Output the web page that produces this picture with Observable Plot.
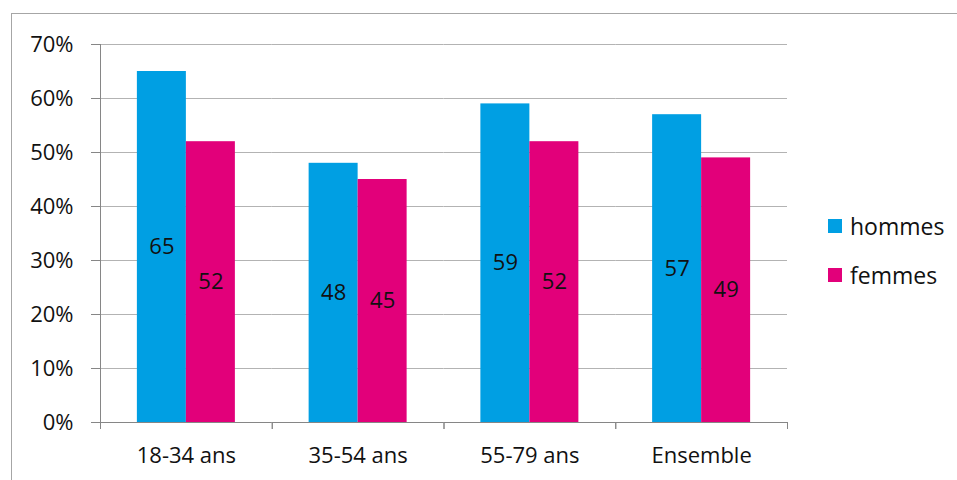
<!DOCTYPE html>
<html>
<head>
<meta charset="utf-8">
<script src="https://cdn.jsdelivr.net/npm/d3@7"></script>
<script src="https://cdn.jsdelivr.net/npm/@observablehq/plot@0.6"></script>
<style>
  body { margin: 0; background: #fff; font-family: "Open Sans", sans-serif; }
  #wrap { position: relative; width: 957px; height: 480px; overflow: hidden; }
  #border { position: absolute; left: 11px; top: 13px; width: 960px; height: 490px; border: 1px solid #a6a6a6; box-sizing: border-box; }
  #chart { position: absolute; left: 0; top: 0; }
  .legend { position: absolute; left: 828px; font-size: 23px; line-height: 30px; color: #111; display: flex; align-items: center; }
  .legend span.sw { display: inline-block; width: 14px; height: 14px; margin-right: 8px; }
</style>
</head>
<body>
<div id="wrap">
  <div id="border"></div>
  <div id="chart"></div>
  <div class="legend" style="top:211px"><span class="sw" style="background:#009FE3"></span>hommes</div>
  <div class="legend" style="top:260px"><span class="sw" style="background:#E2007A"></span>femmes</div>
</div>
<script>
const categories = ["18-34 ans", "35-54 ans", "55-79 ans", "Ensemble"];
const series = ["hommes", "femmes"];
const hommes = [65, 48, 59, 57];
const femmes = [52, 45, 52, 49];
const yTicks = [0, 10, 20, 30, 40, 50, 60, 70];
const colors = ["#009FE3", "#E2007A"];

const data = [];
categories.forEach((c, i) => {
  data.push({cat: c, sex: "hommes", v: hommes[i]});
  data.push({cat: c, sex: "femmes", v: femmes[i]});
});

const W = 957, H = 480;
const mTop = 44, mBottom = 58, mLeft = 100, mRight = 170;
const plotH = H - mTop - mBottom;
const font = "'Open Sans', sans-serif";

const chart = Plot.plot({
  width: W,
  height: H,
  marginTop: mTop,
  marginBottom: mBottom,
  marginLeft: mLeft,
  marginRight: mRight,
  style: {fontFamily: font, fontSize: "22px", color: "#111", background: "transparent"},
  fx: {domain: categories, padding: 0, round: false, label: null},
  x: {domain: series, paddingInner: 0, paddingOuter: 0.7526, round: false, axis: null},
  y: {domain: [0, 70], label: null},
  color: {domain: series, range: colors},
  marks: [
    Plot.ruleY(yTicks.filter(d => d > 0), {stroke: "#b3b3b3", strokeWidth: 1}),
    Plot.barY(data, {fx: "cat", x: "sex", y: "v", fill: "sex"}),
    Plot.text(data, {fx: "cat", x: "sex", y: d => d.v / 2, text: d => String(d.v), fill: "#111", fontSize: 22}),
    Plot.ruleY([0], {stroke: "#868686"}),
    Plot.frame({anchor: "left", insetTop: plotH, insetBottom: -6, stroke: "#868686"}),
    Plot.frame({anchor: "right", insetTop: plotH, insetBottom: -6, stroke: "#868686"}),
    Plot.frame({anchor: "left", facet: "super", stroke: "#868686"}),
    Plot.axisY({ticks: yTicks, tickSize: 9, tickFormat: () => "", stroke: "#868686", label: null}),
    Plot.axisY({ticks: yTicks, tickSize: 0, tickPadding: 27, tickFormat: d => d + "%", fill: "#111", fontSize: 22, label: null}),
    Plot.axisFx({anchor: "bottom", tickSize: 0, tickPadding: 25, fill: "#111", fontSize: 22, label: null})
  ]
});
document.getElementById("chart").appendChild(chart);
</script>
</body>
</html>
